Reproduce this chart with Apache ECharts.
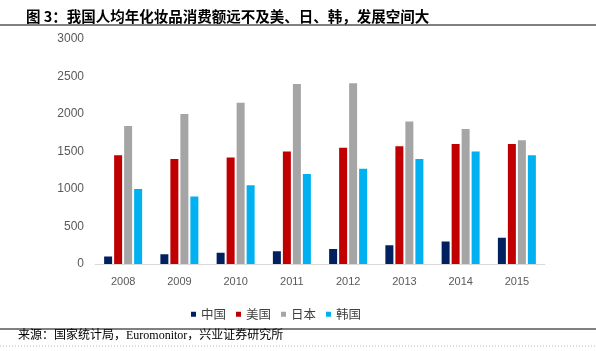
<!DOCTYPE html>
<html>
<head>
<meta charset="utf-8">
<script src="https://cdn.jsdelivr.net/npm/echarts@6/dist/echarts.min.js"></script>
<style>
  html, body { margin: 0; padding: 0; background: #fff; }
  #chart { width: 596px; height: 351px; }
</style>
</head>
<body>
<div id="chart"></div>
<script>
// 数据
var years = ['2008', '2009', '2010', '2011', '2012', '2013', '2014', '2015'];
var china = [100, 130, 150, 170, 200, 250, 300, 350];
var usa = [1450, 1400, 1420, 1500, 1550, 1570, 1600, 1600];
var japan = [1840, 2000, 2150, 2400, 2410, 1900, 1800, 1650];
var korea = [1000, 900, 1050, 1200, 1270, 1400, 1500, 1450];
var yTicks = [0, 500, 1000, 1500, 2000, 2500, 3000];

var myChart = echarts.init(document.getElementById('chart'));

function bar(name, data, color) {
  return {
    name: name,
    type: 'bar',
    data: data,
    barWidth: 8,
    barGap: '25%',
    itemStyle: { color: color }
  };
}

var option = {
  animation: false,
  title: {
    text: '图 3：我国人均年化妆品消费额远不及美、日、韩，发展空间大',
    left: 21,
    top: 4,
    textStyle: {
      fontFamily: 'Noto Sans CJK SC',
      fontWeight: 'bold',
      fontSize: 14.5,
      color: '#000'
    }
  },
  legend: {
    left: 186,
    top: 303,
    itemWidth: 5,
    itemHeight: 5,
    itemGap: 10,
    icon: 'rect',
    textStyle: { fontFamily: 'Noto Sans CJK SC', fontSize: 12.5, color: '#404040' },
    data: ['中国', '美国', '日本', '韩国']
  },
  grid: { left: 95, right: 51, top: 39, bottom: 87 },
  xAxis: {
    type: 'category',
    data: years,
    axisLine: { lineStyle: { color: '#d9d9d9' } },
    axisTick: { show: false },
    axisLabel: { color: '#595959', fontSize: 11, fontFamily: 'Liberation Sans', margin: 12 }
  },
  yAxis: {
    type: 'value',
    min: yTicks[0],
    max: yTicks[yTicks.length - 1],
    interval: 500,
    splitLine: { show: false },
    axisLine: { show: false },
    axisLabel: {
      color: '#595959', fontSize: 12, fontFamily: 'Liberation Sans', margin: 11,
      formatter: function (v) { return String(v); }
    }
  },
  graphic: [
    { type: 'line', shape: { x1: 0, y1: 25, x2: 596, y2: 25 }, style: { stroke: '#000', lineWidth: 1 } },
    { type: 'line', shape: { x1: 0, y1: 329, x2: 596, y2: 329 }, style: { stroke: '#000', lineWidth: 1 } },
    { type: 'line', shape: { x1: 0, y1: 346, x2: 596, y2: 346 }, style: { stroke: '#bbb', lineWidth: 1, lineDash: [1, 2] } },
    {
      type: 'text', left: 18, top: 330,
      style: {
        text: '来源：国家统计局，Euromonitor，兴业证券研究所',
        font: '12px "Liberation Serif", "Noto Sans CJK SC"',
        fill: '#000'
      }
    }
  ],
  series: [
    bar('中国', china, '#002060'),
    bar('美国', usa, '#c00000'),
    bar('日本', japan, '#a5a5a5'),
    bar('韩国', korea, '#00b0f0')
  ]
};

myChart.setOption(option);
</script>
</body>
</html>
